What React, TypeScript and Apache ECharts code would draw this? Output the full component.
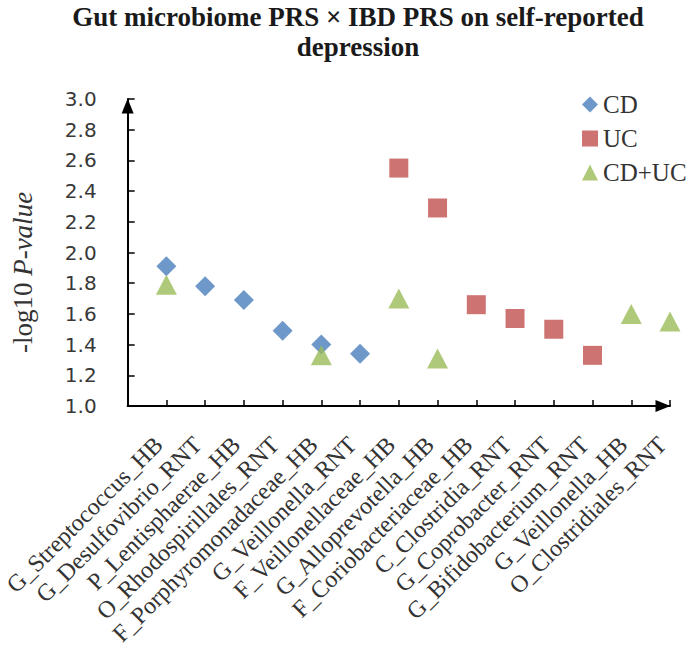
import React, { useEffect, useRef } from "react";
import * as echarts from "echarts";

const categories = [
  "G_Streptococcus_HB",
  "G_Desulfovibrio_RNT",
  "P_Lentisphaerae_HB",
  "O_Rhodospirillales_RNT",
  "F_Porphyromonadaceae_HB",
  "G_Veillonella_RNT",
  "F_Veillonellaceae_HB",
  "G_Alloprevotella_HB",
  "F_Coriobacteriaceae_HB",
  "C_Clostridia_RNT",
  "G_Coprobacter_RNT",
  "G_Bifidobacterium_RNT",
  "G_Veillonella_HB",
  "O_Clostridiales_RNT",
];

const cdValues = [1.91, 1.78, 1.69, 1.49, 1.4, 1.34, null, null, null, null, null, null, null, null];
const ucValues = [null, null, null, null, null, null, 2.55, 2.29, 1.66, 1.57, 1.5, 1.33, null, null];
const cducValues = [1.79, null, null, null, 1.33, null, 1.7, 1.31, null, null, null, null, 1.6, 1.55];

const yTicks = { min: 1.0, max: 3.0, step: 0.2 };

const toPairs = (vals: (number | null)[]) =>
  categories
    .map((c, i) => (vals[i] == null ? null : [c, vals[i]]))
    .filter((d) => d !== null);

export default function App() {
  const ref = useRef<HTMLDivElement>(null);
  useEffect(() => {
    if (!ref.current) return;
    const chart = echarts.init(ref.current, undefined, { renderer: "svg" });
    const serif = "Liberation Serif";
    chart.setOption({
      animation: false,
      backgroundColor: "#ffffff",
      title: {
        text: "Gut microbiome PRS × IBD PRS on self-reported\ndepression",
        left: 353,
        top: -3,
        textAlign: "center",
        textStyle: {
          fontFamily: serif,
          fontWeight: "bold",
          fontSize: 27,
          lineHeight: 30,
          color: "#1a1a1a",
        },
      },
      legend: {
        orient: "vertical",
        left: 582,
        top: 92,
        itemWidth: 16,
        itemHeight: 16,
        itemGap: 9,
        padding: 0,
        textStyle: { fontFamily: serif, fontSize: 25, color: "#333333" },
        data: ["CD", "UC", "CD+UC"],
      },
      grid: { left: 126, right: 20, top: 99, bottom: 249 },
      xAxis: {
        type: "category",
        boundaryGap: false,
        data: ["", ...categories],
        axisLine: {
          lineStyle: { color: "#000000", width: 2 },
          symbol: ["none", "triangle"],
          symbolSize: [12, 15],
          symbolOffset: [0, -7],
        },
        axisTick: { inside: true, length: 6, interval: 0, lineStyle: { color: "#000", width: 1.5 } },
        axisLabel: {
          interval: 0,
          rotate: 45,
          margin: 27,
          padding: [0, 11, 0, 0],
          fontFamily: serif,
          fontSize: 24,
          color: "#333333",
        },
        splitLine: { show: false },
      },
      yAxis: {
        type: "value",
        min: yTicks.min,
        max: yTicks.max,
        interval: yTicks.step,
        name: "{a|-log10 }{b|P-value}",
        nameLocation: "middle",
        nameGap: 91,
        nameTextStyle: {
          padding: [0, 40, 0, 0],
          rich: {
            a: { fontFamily: serif, fontSize: 27, color: "#333333" },
            b: { fontFamily: serif, fontSize: 27, fontStyle: "italic", color: "#333333" },
          },
        },
        axisLine: {
          show: true,
          lineStyle: { color: "#000000", width: 2 },
          symbol: ["none", "triangle"],
          symbolSize: [12, 15],
          symbolOffset: [0, -7],
        },
        axisTick: { show: true, inside: true, length: 7, lineStyle: { color: "#000", width: 1.5 } },
        axisLabel: {
          margin: 31,
          fontFamily: "DejaVu Sans",
          fontSize: 20,
          color: "#383838",
          formatter: (v: number) => v.toFixed(1),
        },
        splitLine: { show: false },
      },
      series: [
        {
          name: "CD",
          type: "scatter",
          symbol: "diamond",
          symbolSize: [20, 20],
          itemStyle: { color: "#4A7EBB" },
          data: toPairs(cdValues),
        },
        {
          name: "UC",
          type: "scatter",
          symbol: "rect",
          symbolSize: [19, 19],
          itemStyle: { color: "#C0504D" },
          data: toPairs(ucValues),
        },
        {
          name: "CD+UC",
          type: "scatter",
          symbol: "triangle",
          symbolSize: [21, 20],
          itemStyle: { color: "#9BBB59" },
          data: toPairs(cducValues),
        },
      ],
    });
    return () => chart.dispose();
  }, []);
  return (
    <div
      ref={ref}
      style={{ position: "fixed", left: 0, top: 0, width: 690, height: 655 }}
    />
  );
}
